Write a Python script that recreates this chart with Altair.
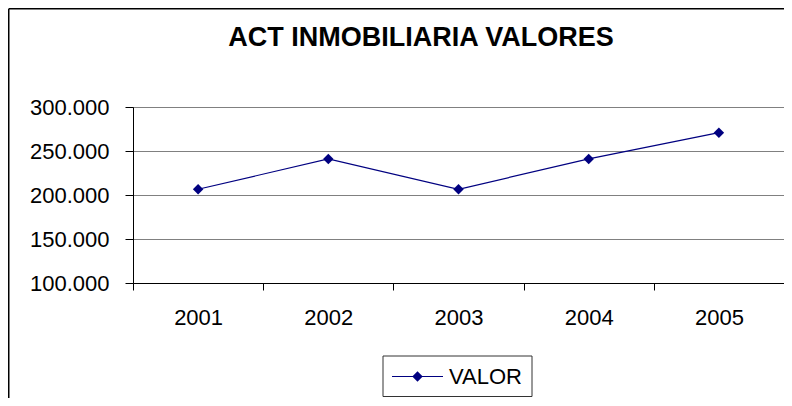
import altair as alt
import pandas as pd

# ---- data ----
years = ["2001", "2002", "2003", "2004", "2005"]
values = [206500, 241000, 206500, 241000, 270800]
series_name = "VALOR"
title_text = "ACT INMOBILIARIA VALORES"
y_ticks = [100000, 150000, 200000, 250000, 300000]

df = pd.DataFrame({"year": years, "value": values, "series": [series_name] * len(years)})
leg_df = pd.DataFrame({"label": [series_name]})
title_df = pd.DataFrame({"t": [title_text]})

FONT = "Liberation Sans"
NAVY = "#000080"

x_enc = alt.X(
    "year:O",
    bandPosition=0.5,
    scale=alt.Scale(type="band", paddingInner=0, paddingOuter=0),
    axis=alt.Axis(
        title=None, tickBand="extent", labelAngle=0, labelFontSize=22, labelFont=FONT,
        labelColor="black", labelPadding=17, tickSize=7, tickColor="black",
        domainColor="black", grid=False,
    ),
)
y_enc = alt.Y(
    "value:Q",
    scale=alt.Scale(domain=[100000, 300000], nice=False, zero=False),
    axis=alt.Axis(
        title=None, values=y_ticks,
        labelExpr="replace(format(datum.value, ',.0f'), ',', '.')",
        labelFontSize=22, labelFont=FONT, labelColor="black", labelPadding=16,
        tickSize=8, tickColor="black", domainColor="black",
        grid=True, gridColor="#808080", gridWidth=1,
    ),
)

base = alt.Chart(df)
line = base.mark_line(color=NAVY, strokeWidth=1.2).encode(x=x_enc, y=y_enc)
pts = base.mark_point(shape="diamond", filled=True, size=110, color=NAVY, opacity=1).encode(x=x_enc, y=y_enc)

title = alt.Chart(title_df).mark_text(
    align="center", baseline="alphabetic", fontSize=27, fontWeight="bold", font=FONT, color="black"
).encode(text="t:N", x=alt.value(288), y=alt.value(-60.7))

border_v = alt.Chart(leg_df).mark_rule(color="black", strokeWidth=1.5).encode(
    x=alt.value(-124.25), y=alt.value(-98.25), y2=alt.value(400))
border_h = alt.Chart(leg_df).mark_rule(color="black", strokeWidth=1.5).encode(
    y=alt.value(-98.25), x=alt.value(-124.25), x2=alt.value(700))

leg_box = alt.Chart(leg_df).mark_rect(fill="white", stroke="#333333", strokeWidth=1).encode(
    x=alt.value(250), x2=alt.value(399), y=alt.value(249), y2=alt.value(289.5))
leg_line = alt.Chart(leg_df).mark_rule(color=NAVY, strokeWidth=1.2).encode(
    x=alt.value(259), x2=alt.value(310), y=alt.value(269.5))
leg_pt = alt.Chart(leg_df).mark_point(shape="diamond", filled=True, size=110, color=NAVY, opacity=1).encode(
    x=alt.value(284.5), y=alt.value(269.5))
leg_txt = alt.Chart(leg_df).mark_text(
    align="left", baseline="middle", fontSize=22, font=FONT, color="black"
).encode(text="label:N", x=alt.value(316), y=alt.value(270))

chart = alt.layer(
    line, pts, title, border_v, border_h, leg_box, leg_line, leg_pt, leg_txt
).properties(
    width=651, height=176,
    padding={"left": 125, "top": 99, "right": 0, "bottom": 115},
    autosize=alt.AutoSizeParams(type="none"),
    background="white",
).configure_view(stroke="#808080", strokeWidth=1)

chart.save("out.html", embed_options={"renderer": "svg", "actions": False})
